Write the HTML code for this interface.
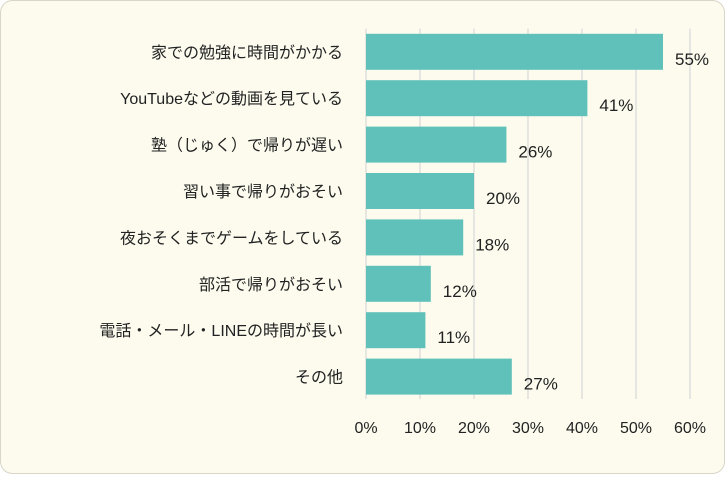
<!DOCTYPE html>
<html><head><meta charset="utf-8"><style>
body{margin:0;background:#fff;}
#wrap{width:725px;height:474px;position:relative;}
svg text{font-family:"Liberation Sans","Noto Sans CJK JP",sans-serif;fill:#222;}
</style></head><body>
<div id="wrap">
<svg id="chart" width="725" height="474">
<rect x="0.5" y="0.5" width="724" height="473" rx="12" fill="#fcfbee" stroke="#d8d6c8"/>
<g id="grid"></g><g id="bars"></g><g id="labels"></g>
</svg>
</div>
<script>
const categories=["家での勉強に時間がかかる","YouTubeなどの動画を見ている","塾（じゅく）で帰りが遅い","習い事で帰りがおそい","夜おそくまでゲームをしている","部活で帰りがおそい","電話・メール・LINEの時間が長い","その他"];
const values=[55,41,26,20,18,12,11,27];
const ticks=[0,10,20,30,40,50,60];
const x0=366,pxPer=5.4,plotTop=28.6,band=46.4,barH=36;
const xs=v=>x0+v*pxPer;
const ns="http://www.w3.org/2000/svg";
const g=document.getElementById('grid'),b=document.getElementById('bars'),l=document.getElementById('labels');
ticks.forEach(t=>{
 const ln=document.createElementNS(ns,'line');
 
 
 ln.setAttribute('x1',xs(t));ln.setAttribute('x2',xs(t));ln.setAttribute('y1',plotTop);ln.setAttribute('y2',399);
 ln.setAttribute('stroke','#d9d9d9');ln.setAttribute('stroke-width','1.2');g.appendChild(ln);
 const tx=document.createElementNS(ns,'text');
 
 
 tx.setAttribute('x',xs(t));tx.setAttribute('y',433);tx.setAttribute('text-anchor','middle');tx.setAttribute('font-size','16');
 tx.textContent=t+'%';l.appendChild(tx);
});
categories.forEach((c,i)=>{
 const y=plotTop+i*band+(band-barH)/2;
 const r=document.createElementNS(ns,'rect');
 
 
 r.setAttribute('x',x0);r.setAttribute('y',y);r.setAttribute('width',values[i]*pxPer);r.setAttribute('height',barH);
 r.setAttribute('fill','#5fc1b9');b.appendChild(r);
 const v=document.createElementNS(ns,'text');
 
 
 v.setAttribute('x',xs(values[i])+12);v.setAttribute('y',y+barH/2+13);v.setAttribute('font-size','17');
 v.textContent=values[i]+'%';l.appendChild(v);
 const c1=document.createElementNS(ns,'text');
 
 
 c1.setAttribute('x',343);c1.setAttribute('y',y+barH/2+6);c1.setAttribute('text-anchor','end');c1.setAttribute('font-size','16');
 c1.textContent=c;l.appendChild(c1);
});
</script>
</body></html>
